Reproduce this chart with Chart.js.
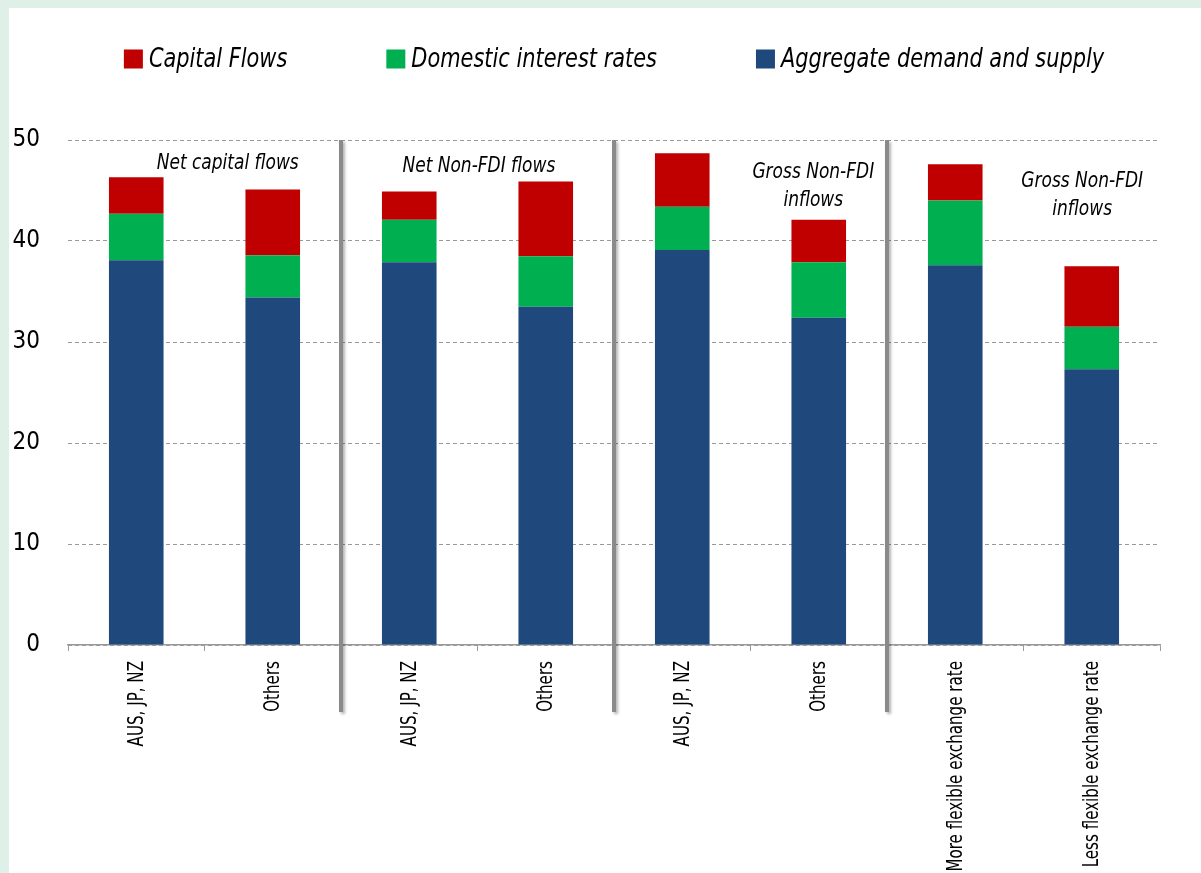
<!DOCTYPE html>
<html>
<head>
<meta charset="utf-8">
<script src="https://cdn.jsdelivr.net/npm/chart.js@4.4.1/dist/chart.umd.min.js"></script>
<style>
    html, body { margin: 0; padding: 0; }
    body { background: #dff0e8; width: 1201px; height: 873px; overflow: hidden; }
    #panel { position: absolute; left: 9px; top: 8px; width: 1192px; height: 865px; background: #ffffff; }
</style>
</head>
<body>
<div id="panel"><canvas id="chart" width="1192" height="865"></canvas></div>
<script>
const categories = ['AUS, JP, NZ', 'Others', 'AUS, JP, NZ', 'Others', 'AUS, JP, NZ', 'Others', 'More flexible exchange rate', 'Less flexible exchange rate'];
const aggregateDemand = [38.1, 34.4, 37.9, 33.5, 39.1, 32.4, 37.6, 27.3];
const domesticRates = [4.6, 4.2, 4.2, 5.0, 4.3, 5.5, 6.4, 4.2];
const capitalFlows = [3.6, 6.5, 2.8, 7.4, 5.3, 4.2, 3.6, 6.0];
const yTicks = [0, 10, 20, 30, 40, 50];
// group titles: [text lines, centre position in category units, offset below chart top]
const groupTitles = [
    [['Net capital flows'], 0.67, 23],
    [['Net Non-FDI flows'], 2.51, 26],
    [['Gross Non-FDI', 'inflows'], 4.96, 32],
    [['Gross Non-FDI', 'inflows'], 6.93, 41]
];
const separators = [1.5, 3.5, 5.5];

const FONT = '"Liberation Sans Narrow", "DejaVu Sans Condensed", Arial, sans-serif';
const NARROW = 0.86;
const RED = '#c00000', GREEN = '#00b050', BLUE = '#1f497d';

const legendItems = [
    ['Capital Flows', RED],
    ['Domestic interest rates', GREEN],
    ['Aggregate demand and supply', BLUE]
];

// draw text squeezed horizontally, like a condensed face
function narrowText(ctx, text, x, y, sx) {
    ctx.save();
    ctx.translate(x, y);
    ctx.scale(sx, 1);
    ctx.fillText(text, 0, 0);
    ctx.restore();
}

const extras = {
    id: 'extras',
    afterDatasetsDraw(chart) {
        const { ctx, chartArea, scales } = chart;
        ctx.save();
        ctx.strokeStyle = '#8a8a8a';
        ctx.lineWidth = 4;
        ctx.shadowColor = 'rgba(0,0,0,0.3)';
        ctx.shadowBlur = 3;
        ctx.shadowOffsetX = 2;
        ctx.shadowOffsetY = 2;
        separators.forEach(s => {
            const x = scales.x.getPixelForValue(s);
            ctx.beginPath();
            ctx.moveTo(x, chartArea.top);
            ctx.lineTo(x, chartArea.bottom + 67);
            ctx.stroke();
        });
        ctx.restore();
    },
    afterDraw(chart) {
        const { ctx, chartArea, scales } = chart;
        ctx.save();
        ctx.fillStyle = '#000';
        ctx.textBaseline = 'middle';

        // category labels, rotated, ending just under the axis
        ctx.font = '21px ' + FONT;
        ctx.textAlign = 'right';
        categories.forEach((c, i) => {
            const x = scales.x.getPixelForValue(i);
            ctx.save();
            ctx.translate(x + 1, chartArea.bottom + 16);
            ctx.rotate(-Math.PI / 2);
            ctx.scale(0.8, 1);
            ctx.fillText(c, 0, 0);
            ctx.restore();
        });

        // group titles
        ctx.textAlign = 'center';
        ctx.font = 'italic 22px ' + FONT;
        groupTitles.forEach(([lines, pos, dy]) => {
            const x = scales.x.getPixelForValue(pos);
            lines.forEach((t, i) => narrowText(ctx, t, x, chartArea.top + dy + i * 28, NARROW));
        });

        // legend
        ctx.font = 'italic 27px ' + FONT;
        ctx.textAlign = 'left';
        const box = 19, gapText = 6, gapItem = 99;
        const widths = legendItems.map(([t]) => box + gapText + ctx.measureText(t).width * NARROW);
        const total = widths.reduce((a, b) => a + b, 0) + gapItem * (legendItems.length - 1);
        let x = (chartArea.left + chartArea.right) / 2 - total / 2;
        const y = 52;
        legendItems.forEach(([t, c], i) => {
            ctx.fillStyle = c;
            ctx.fillRect(x, y - box / 2 - 1, box, box);
            ctx.fillStyle = '#000';
            narrowText(ctx, t, x + box + gapText, y, NARROW);
            x += widths[i] + gapItem;
        });
        ctx.restore();
    }
};

new Chart(document.getElementById('chart'), {
    type: 'bar',
    data: {
        labels: categories,
        datasets: [
            { label: 'Aggregate demand and supply', data: aggregateDemand, backgroundColor: BLUE },
            { label: 'Domestic interest rates', data: domesticRates, backgroundColor: GREEN },
            { label: 'Capital Flows', data: capitalFlows, backgroundColor: RED }
        ]
    },
    options: {
        responsive: false,
        animation: false,
        devicePixelRatio: 1,
        datasets: { bar: { categoryPercentage: 1, barPercentage: 0.4 } },
        layout: { padding: { top: 132, right: 41, left: 0, bottom: 0 } },
        plugins: { legend: { display: false }, tooltip: { enabled: false } },
        scales: {
            x: {
                stacked: true,
                afterFit(scale) { scale.height = 228; },
                grid: { drawOnChartArea: false, drawTicks: true, tickLength: 6, color: '#9a9a9a', offset: true },
                border: { display: true, color: '#9a9a9a', width: 1.5 },
                ticks: { display: false, autoSkip: false }
            },
            y: {
                stacked: true,
                min: 0, max: 50,
                afterFit(scale) { scale.width = 59; },
                afterBuildTicks(scale) { scale.ticks = yTicks.map(v => ({ value: v })); },
                grid: { drawTicks: false, color: '#9a9a9a', lineWidth: 1 },
                border: { display: false, dash: [4, 3] },
                ticks: { padding: 28, color: '#000', font: { family: FONT, size: 24 } }
            }
        }
    },
    plugins: [extras]
});
</script>
</body>
</html>
